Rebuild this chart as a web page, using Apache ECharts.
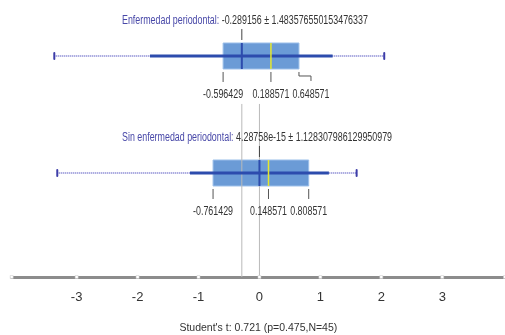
<!DOCTYPE html>
<html>
<head>
<meta charset="utf-8">
<script src="https://cdn.jsdelivr.net/npm/echarts@6/dist/echarts.min.js"></script>
<style>
html,body{margin:0;padding:0;background:#fff;}
#chart{width:505px;height:335px;}
</style>
</head>
<body>
<div id="chart"></div>
<script>
// ---- data ----
const groups = ['Enfermedad periodontal', 'Sin enfermedad periodontal'];
const meanText = ['-0.289156', '4.28758e-15'];
const sdText = ['1.483576550153476337', '1.128307986129950979'];
const means = [-0.289156, 4.28758e-15];
const q1 = [-0.596429, -0.761429];
const medians = [0.188571, 0.148571];
const q3 = [0.648571, 0.808571];
const q1Text = ['-0.596429', '-0.761429'];
const medianText = ['0.188571', '0.148571'];
const q3Text = ['0.648571', '0.808571'];
const whiskerLow = [-1.797, -1.140];
const whiskerHigh = [1.201, 1.140];
const rangeLow = [-3.367, -3.318];
const rangeHigh = [2.048, 1.595];
const tickValues = [-3, -2, -1, 0, 1, 2, 3];
const axisMin = -4.066, axisMax = 4.03;
const axisTitle = "Student's t: 0.721 (p=0.475,N=45)";

// ---- layout ----
const FONT = '"Liberation Sans", Arial, sans-serif';
const SX = 0.74; // horizontal condensing of text
const TITLE_LEFT = 122;
const Y_MIN = 0.5214, Y_MAX = 2.889;
const measureCtx = document.createElement('canvas').getContext('2d');
function textW(t, size) { measureCtx.font = size + 'px ' + FONT; return measureCtx.measureText(t).width * SX; }

const chart = echarts.init(document.getElementById('chart'));
const HB = 13;

function rowInfo(api) {
  const i = api.value(0);
  const row = i + 1;
  return {i, X: v => api.coord([v, row])[0], y: api.coord([0, row])[1]};
}

function renderBox(params, api) {
  const {i, X, y} = rowInfo(api);
  const ch = [];
  ch.push({type:'line', shape:{x1:X(rangeLow[i]), y1:y, x2:X(rangeHigh[i]), y2:y},
    style:{stroke:'#8e8ed6', lineWidth:2, lineDash:[1,1]}});
  [rangeLow[i], rangeHigh[i]].forEach(v => ch.push({type:'line', shape:{x1:X(v), y1:y-3, x2:X(v), y2:y+3},
    style:{stroke:'#3d3da8', lineWidth:2, lineCap:'round'}}));
  ch.push({type:'rect', shape:{x:X(q1[i]), y:y-HB, width:X(q3[i])-X(q1[i]), height:2*HB},
    style:{fill:'#6b9bd6', stroke:'#9dc0ea', lineWidth:1}});
  return {type:'group', children:ch};
}

function renderMarks(params, api) {
  const {i, X, y} = rowInfo(api);
  const ch = [];
  ch.push({type:'line', shape:{x1:X(whiskerLow[i]), y1:y, x2:X(whiskerHigh[i]), y2:y},
    style:{stroke:'#2d4cad', lineWidth:3}});
  ch.push({type:'line', shape:{x1:X(means[i]), y1:y-HB, x2:X(means[i]), y2:y+HB},
    style:{stroke:'#2d4cad', lineWidth:2}});
  ch.push({type:'line', shape:{x1:X(medians[i]), y1:y-HB, x2:X(medians[i]), y2:y+HB},
    style:{stroke:'#e6e82c', lineWidth:1.5}});
  ch.push({type:'line', shape:{x1:X(means[i]), y1:y-27, x2:X(means[i]), y2:y-16},
    style:{stroke:'#444', lineWidth:1}});
  ch.push({type:'text', x:TITLE_LEFT, y:y-35, scaleX:SX, style:{
    text:'{a|' + groups[i] + ':} {b|' + meanText[i] + ' ± ' + sdText[i] + '}',
    x:0, y:0, align:'left', verticalAlign:'middle',
    rich:{a:{fill:'#4848a8', font:'12px ' + FONT}, b:{fill:'#333', font:'12px ' + FONT}}
  }});
  const vals = [q1[i], medians[i], q3[i]];
  const txts = [q1Text[i], medianText[i], q3Text[i]];
  let prevRight = -Infinity;
  vals.forEach((v, k) => {
    const px = X(v);
    const w = textW(txts[k], 12);
    let cx = px;
    if (cx - w / 2 < prevRight + 3) cx = prevRight + 3 + w / 2;
    prevRight = cx + w / 2;
    if (Math.abs(cx - px) < 0.5) {
      ch.push({type:'line', shape:{x1:px, y1:y+16, x2:px, y2:y+26}, style:{stroke:'#555', lineWidth:1}});
    } else {
      ch.push({type:'polyline', shape:{points:[[px, y+16],[px, y+20],[cx, y+20],[cx, y+25]]},
        style:{stroke:'#555', lineWidth:1, fill:null}});
    }
    ch.push({type:'text', x:cx, y:y+39, scaleX:SX, style:{text:txts[k], x:0, y:0, align:'center', verticalAlign:'middle',
      fill:'#333', font:'12px ' + FONT}});
  });
  return {type:'group', children:ch};
}

function renderRef(params, api) {
  const i = api.value(0);
  const x = api.coord([means[i], 1])[0];
  const yTop = api.coord([0, 1.41])[1];
  const yBot = api.coord([0, Y_MAX])[1];
  return {type:'line', shape:{x1:x, y1:yTop, x2:x, y2:yBot}, style:{stroke:'#b9b9b9', lineWidth:1}};
}

function renderTick(params, api) {
  const v = api.value(0);
  const p = api.coord([v, Y_MAX]);
  return {type:'rect', shape:{x:p[0]-1.5, y:p[1]-1.5, width:3, height:3},
    style:{fill:'#fff', stroke:'#c8c8c8', lineWidth:0.5}};
}

const rows = groups.map((g, i) => [i]);
chart.setOption({
  animation:false,
  grid:{left:11.7, right:0, top:0, bottom:58, outerBoundsMode:'none', containLabel:false},
  xAxis:{type:'value', min:axisMin, max:axisMax,
    axisLine:{show:true, lineStyle:{color:'#8c8c8c', width:3}},
    axisTick:{show:false}, splitLine:{show:false},
    axisLabel:{customValues:tickValues, color:'#333', fontSize:13, fontFamily:FONT, margin:14,
      formatter: v => String(v)},
    name:axisTitle, nameLocation:'middle', nameGap:46,
    nameTextStyle:{color:'#333', fontSize:10.5, fontFamily:FONT}},
  yAxis:{type:'value', inverse:true, min:Y_MIN, max:Y_MAX, show:false},
  series:[
    {type:'custom', renderItem:renderBox, data:rows, z:1, silent:true, clip:false},
    {type:'custom', renderItem:renderRef, data:rows, z:2, silent:true, clip:false},
    {type:'custom', renderItem:renderMarks, data:rows, z:3, silent:true, clip:false},
    {type:'custom', renderItem:renderTick, data:[axisMin].concat(tickValues, [axisMax]).map(v=>[v]), z:4, silent:true, clip:false}
  ]
});
</script>
</body>
</html>
